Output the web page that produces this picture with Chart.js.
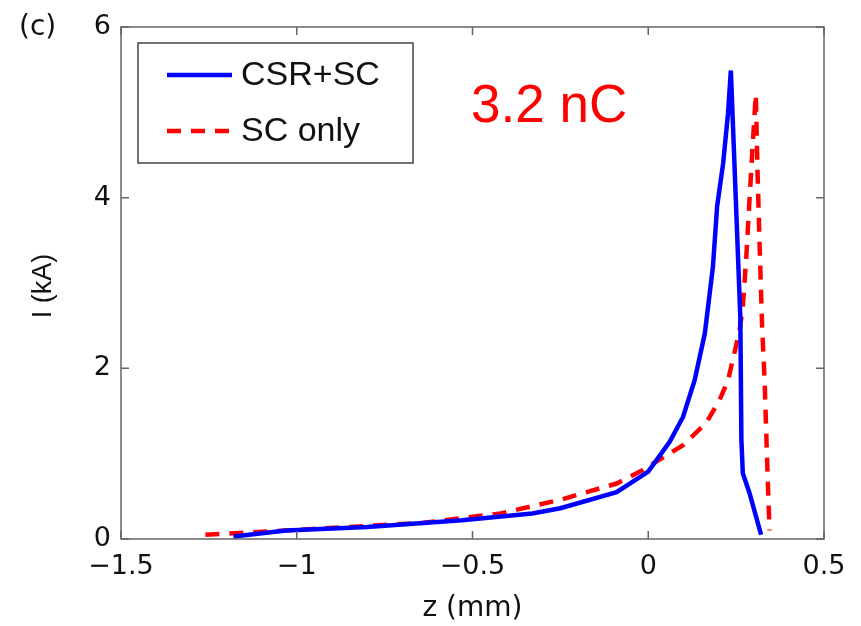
<!DOCTYPE html>
<html>
<head>
<meta charset="utf-8">
<script src="https://cdn.jsdelivr.net/npm/chart.js@4"></script>
<style>
  html, body { margin: 0; padding: 0; background: #fff; }
  #wrap { width: 861px; height: 626px; position: relative; }
</style>
</head>
<body>
<div id="wrap"><canvas id="chart" width="861" height="626"></canvas></div>
<script>
// CSR+SC (solid blue)
const blueZ = [-1.18, -1.03, -0.80, -0.53, -0.33, -0.25, -0.09, 0.00, 0.061, 0.099, 0.132, 0.161, 0.184, 0.196, 0.213, 0.227, 0.235, 0.262, 0.265, 0.269, 0.288, 0.321];
const blueI = [0.03, 0.10, 0.14, 0.22, 0.30, 0.36, 0.55, 0.79, 1.14, 1.43, 1.86, 2.41, 3.19, 3.90, 4.40, 4.99, 5.49, 2.60, 1.16, 0.77, 0.54, 0.05];
// SC only (dashed red)
const redZ = [-1.26, -1.03, -0.64, -0.42, -0.25, -0.09, -0.015, 0.099, 0.165, 0.203, 0.227, 0.249, 0.260, 0.269, 0.279, 0.288, 0.298, 0.306, 0.311, 0.317, 0.324, 0.331, 0.340, 0.345];
const redI = [0.05, 0.10, 0.19, 0.30, 0.46, 0.65, 0.81, 1.10, 1.36, 1.63, 1.86, 2.25, 2.45, 2.72, 3.31, 3.97, 4.68, 5.21, 4.29, 3.42, 2.49, 1.86, 0.69, 0.10];

const xTicks = [-1.5, -1, -0.5, 0, 0.5];
const yTicks = [0, 2, 4, 6];
const seriesNames = ['CSR+SC', 'SC only'];
const chargeLabel = '3.2 nC';
const panelLabel = '(c)';
const yTitle = 'I (kA)';

const SANS = 'Liberation Sans, Arial, sans-serif';
const WIDE = 'DejaVu Sans, sans-serif';

function toPts(xs, ys) {
    return xs.map((x, i) => ({ x: x, y: ys[i] }));
}

function fmt(v) {
    return String(v).replace('-', '\u2212');
}

// box, inward ticks, legend and annotations
const decorPlugin = {
    id: 'decor',
    afterDraw(chart) {
        const ctx = chart.ctx;
        const a = chart.chartArea;
        const xs = chart.scales.x, ys = chart.scales.y;
        ctx.save();
        ctx.strokeStyle = '#666';
        ctx.lineWidth = 1.5;
        ctx.strokeRect(a.left, a.top, a.right - a.left, a.bottom - a.top);
        const tl = 8;
        ctx.beginPath();
        xTicks.forEach(v => {
            const px = xs.getPixelForValue(v);
            ctx.moveTo(px, a.bottom); ctx.lineTo(px, a.bottom - tl);
            ctx.moveTo(px, a.top); ctx.lineTo(px, a.top + tl);
        });
        yTicks.forEach(v => {
            const py = ys.getPixelForValue(v);
            ctx.moveTo(a.left, py); ctx.lineTo(a.left + tl, py);
            ctx.moveTo(a.right, py); ctx.lineTo(a.right - tl, py);
        });
        ctx.stroke();

        // legend box
        ctx.fillStyle = '#fff';
        ctx.fillRect(138, 43, 275, 120);
        ctx.strokeStyle = '#444';
        ctx.lineWidth = 1.5;
        ctx.strokeRect(138, 43, 275, 120);
        chart.data.datasets.forEach((ds, i) => {
            const y = 75 + i * 56;
            ctx.strokeStyle = ds.borderColor;
            ctx.lineWidth = ds.borderWidth;
            ctx.setLineDash(ds.borderDash || []);
            ctx.beginPath();
            ctx.moveTo(167, y); ctx.lineTo(232, y);
            ctx.stroke();
            ctx.setLineDash([]);
            ctx.fillStyle = '#111';
            ctx.font = '34px ' + SANS;
            ctx.textBaseline = 'middle';
            ctx.fillText(ds.label, 241, y + 1);
        });

        ctx.fillStyle = '#ff0000';
        ctx.font = '53px ' + SANS;
        ctx.textBaseline = 'middle';
        ctx.fillText(chargeLabel, 471, 107);

        ctx.fillStyle = '#111';
        ctx.font = '28px ' + WIDE;
        ctx.fillText(panelLabel, 19, 28);

        // y axis title
        ctx.translate(44, 286);
        ctx.rotate(-Math.PI / 2);
        ctx.font = '27px ' + SANS;
        ctx.textAlign = 'center';
        ctx.fillText(yTitle, 0, 0);
        ctx.restore();
    }
};

new Chart(document.getElementById('chart').getContext('2d'), {
    type: 'scatter',
    data: {
        datasets: [
            {
                label: seriesNames[0],
                data: toPts(blueZ, blueI),
                showLine: true,
                borderColor: '#0000ff',
                backgroundColor: '#0000ff',
                borderWidth: 4.5,
                pointRadius: 0,
                tension: 0
            },
            {
                label: seriesNames[1],
                data: toPts(redZ, redI),
                showLine: true,
                borderColor: '#ff0000',
                backgroundColor: '#ff0000',
                borderWidth: 4.5,
                borderDash: [14, 10],
                pointRadius: 0,
                tension: 0
            }
        ]
    },
    options: {
        responsive: false,
        animation: false,
        layout: { padding: { left: 0, right: 37, top: 27, bottom: 0 } },
        scales: {
            x: {
                type: 'linear',
                min: -1.5, max: 0.5,
                afterBuildTicks: s => { s.ticks = xTicks.map(v => ({ value: v })); },
                afterFit: s => { s.height = 87; },
                grid: { display: false, drawTicks: false },
                border: { display: false },
                ticks: {
                    color: '#111',
                    font: { family: WIDE, size: 27 },
                    padding: 12,
                    maxRotation: 0,
                    callback: v => fmt(v)
                },
                title: {
                    display: true, text: 'z (mm)', color: '#111',
                    font: { family: WIDE, size: 28 }, padding: { top: 0, bottom: 0 }
                }
            },
            y: {
                type: 'linear',
                min: 0, max: 6,
                afterBuildTicks: s => { s.ticks = yTicks.map(v => ({ value: v })); },
                afterFit: s => { s.width = 121; },
                grid: { display: false, drawTicks: false },
                border: { display: false },
                ticks: {
                    color: '#111',
                    font: { family: WIDE, size: 27 },
                    padding: 10,
                    callback: v => fmt(v)
                },
                title: { display: false }
            }
        },
        plugins: {
            legend: { display: false },
            tooltip: { enabled: false }
        }
    },
    plugins: [decorPlugin]
});
</script>
</body>
</html>
